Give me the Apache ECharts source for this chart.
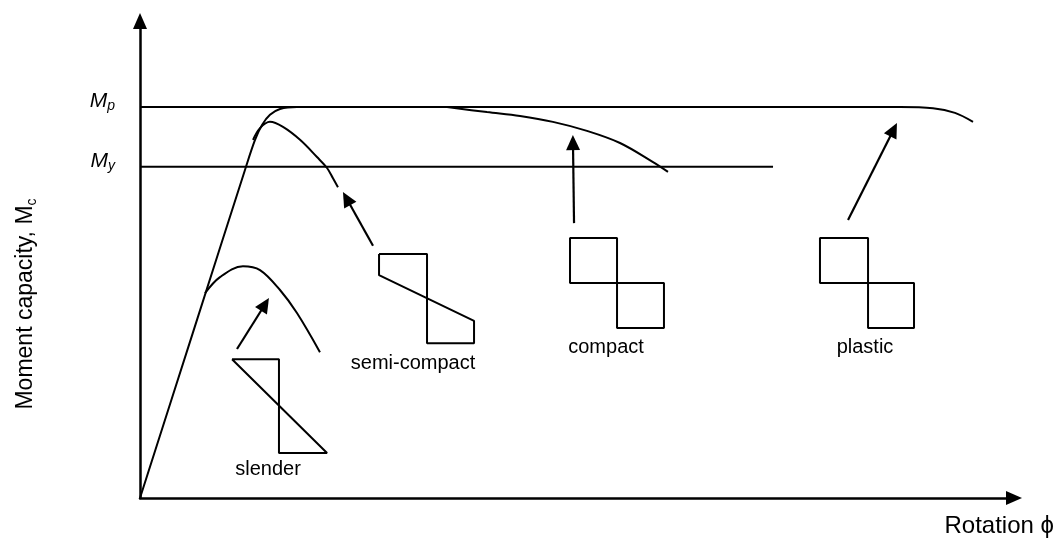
<!DOCTYPE html>
<html>
<head>
<meta charset="utf-8">
<script src="https://cdn.jsdelivr.net/npm/echarts@6/dist/echarts.min.js"></script>
<style>
  html, body { margin: 0; padding: 0; background: #fff; }
  #chart { width: 1062px; height: 542px; }
</style>
</head>
<body>
<div id="chart"></div>
<script>
// reference levels (moment normalised by Mp)
const Mp = 1.0
const My = 0.847

// moment-rotation curves (rotation in arbitrary units, moment / Mp)
const plasticX = [0, 0.6, 1.201, 1.316, 1.396, 1.487, 1.602, 1.796, 5.0, 8.696, 9.073, 9.325, 9.531]
const plasticY = [0, 0.419, 0.839, 0.916, 0.954, 0.980, 0.995, 1.0, 1.0, 1.0, 0.997, 0.985, 0.962]

const compactX = [3.513, 3.970, 4.348, 4.725, 5.114, 5.492, 5.870, 6.041]
const compactY = [1.0, 0.987, 0.977, 0.962, 0.939, 0.908, 0.859, 0.834]

const semiX = [1.293, 1.373, 1.487, 1.636, 1.831, 2.025, 2.140, 2.208, 2.265]
const semiY = [0.916, 0.946, 0.962, 0.949, 0.916, 0.872, 0.844, 0.818, 0.795]

const slenderX = [0.744, 0.915, 1.178, 1.373, 1.602, 1.796, 2.059]
const slenderY = [0.524, 0.565, 0.593, 0.583, 0.532, 0.473, 0.373]

// horizontal reference lines end points
const mpLineEnd = 8.7
const myLineEnd = 7.243

// stress block sketches (outlines)
const slenderShapeX = [1.053, 1.590, 1.590, 2.140, 1.053]
const slenderShapeY = [0.355, 0.355, 0.115, 0.115, 0.355]

const semiShapeX = [2.735, 3.284, 3.284, 3.822, 3.822, 2.735, 2.735]
const semiShapeY = [0.624, 0.624, 0.396, 0.396, 0.453, 0.570, 0.624]

const compactShapeX = [5.458, 4.920, 4.920, 5.458, 5.458, 5.995, 5.995, 5.458]
const compactShapeY = [0.550, 0.550, 0.665, 0.665, 0.435, 0.435, 0.550, 0.550]

const plasticShapeX = [8.330, 7.780, 7.780, 8.330, 8.330, 8.856, 8.856, 8.330]
const plasticShapeY = [0.550, 0.550, 0.665, 0.665, 0.435, 0.435, 0.550, 0.550]

// pointer arrows: tail -> head
const arrowFrom = [[1.110, 0.381], [2.666, 0.645], [4.966, 0.703], [8.101, 0.711]]
const arrowTo = [[1.430, 0.495], [2.364, 0.766], [4.954, 0.909], [8.622, 0.942]]

// class labels
const classNames = ['slender', 'semi-compact', 'compact', 'plastic']
const classAt = [[1.465, 0.072], [3.124, 0.345], [5.332, 0.384], [8.295, 0.386]]

const zip = (xs, ys) => xs.map((x, i) => [x, ys[i]])
const FONT = '"Liberation Sans", Arial, sans-serif'

const lineSeries = (name, data, smooth) => ({
  name,
  type: 'line',
  data,
  smooth: smooth ? 0.35 : false,
  symbol: 'none',
  silent: true,
  lineStyle: { color: '#000', width: 2 }
})

const chartInstance = echarts.init(document.getElementById('chart'), null, { renderer: 'canvas' })

const option = {
  backgroundColor: '#fff',
  animation: false,
  grid: { left: 140, right: 48, top: 21, bottom: 44, outerBoundsMode: 'none' },
  xAxis: {
    type: 'value',
    min: 0,
    max: 10,
    name: 'Rotation ϕ',
    nameLocation: 'end',
    nameGap: 40,
    nameTextStyle: {
      fontFamily: FONT, fontSize: 24, color: '#000',
      align: 'right', verticalAlign: 'top', padding: [16, 0, 0, 0]
    },
    axisLine: {
      lineStyle: { color: '#000', width: 2.5 },
      symbol: ['none', 'triangle'],
      symbolSize: [14, 16]
    },
    axisTick: { show: false },
    axisLabel: { show: false },
    splitLine: { show: false }
  },
  yAxis: {
    type: 'value',
    min: 0,
    max: 1.22,
    axisLine: {
      lineStyle: { color: '#000', width: 2.5 },
      symbol: ['none', 'triangle'],
      symbolSize: [14, 16]
    },
    axisTick: { show: false },
    splitLine: { show: false },
    axisLabel: {
      customValues: [My, Mp],
      margin: 25,
      verticalAlign: 'bottom',
      padding: [0, 0, -6, 0],
      formatter: v => (v === Mp ? '{m|M}{s|p}' : '{m|M}{s|y}'),
      rich: {
        m: { fontFamily: FONT, fontSize: 21, fontStyle: 'italic', color: '#000', verticalAlign: 'top', lineHeight: 22 },
        s: { fontFamily: FONT, fontSize: 14, fontStyle: 'italic', color: '#000', verticalAlign: 'bottom', lineHeight: 14, padding: [14, 0, 0, 0] }
      }
    }
  },
  graphic: [
    {
      type: 'text',
      x: 26,
      y: 304,
      rotation: Math.PI / 2,
      style: {
        text: 'Moment capacity, M{s|c}',
        fontFamily: FONT,
        fontSize: 23,
        fill: '#000',
        align: 'center',
        verticalAlign: 'middle',
        rich: { s: { fontFamily: FONT, fontSize: 14, fill: '#000', padding: [12, 0, 0, 0] } }
      }
    }
  ],
  series: [
    lineSeries('Mp', [[0, Mp], [mpLineEnd, Mp]], false),
    lineSeries('My', [[0, My], [myLineEnd, My]], false),
    lineSeries('plastic', zip(plasticX, plasticY), true),
    lineSeries('compact', zip(compactX, compactY), true),
    lineSeries('semi-compact', zip(semiX, semiY), true),
    lineSeries('slender', zip(slenderX, slenderY), true),
    lineSeries('slender shape', zip(slenderShapeX, slenderShapeY), false),
    lineSeries('semi shape', zip(semiShapeX, semiShapeY), false),
    lineSeries('compact shape', zip(compactShapeX, compactShapeY), false),
    {
      ...lineSeries('plastic shape', zip(plasticShapeX, plasticShapeY), false),
      markLine: {
        silent: true,
        symbol: ['none', 'triangle'],
        symbolSize: [14, 15],
        label: { show: false },
        lineStyle: { color: '#000', width: 2.2, type: 'solid' },
        data: arrowFrom.map((p, i) => [{ coord: p }, { coord: arrowTo[i] }])
      }
    },
    {
      name: 'labels',
      type: 'scatter',
      silent: true,
      symbolSize: 0,
      itemStyle: { opacity: 1 },
      data: classNames.map((n, i) => ({ name: n, value: classAt[i] })),
      label: {
        show: true,
        position: 'inside',
        formatter: '{b}',
        fontFamily: FONT,
        fontSize: 20,
        color: '#000',
        textBorderWidth: 0
      }
    }
  ]
}
chartInstance.setOption(option)
</script>
</body>
</html>
